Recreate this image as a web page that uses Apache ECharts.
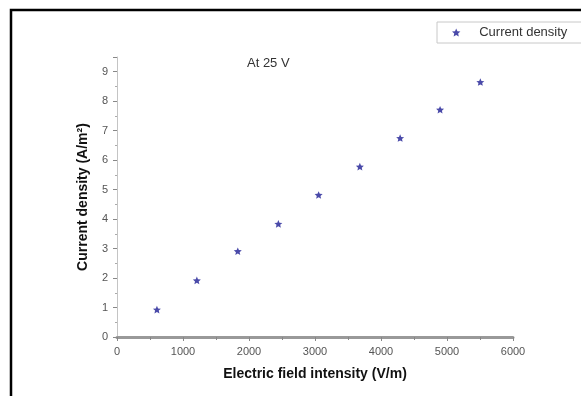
<!DOCTYPE html>
<html>
<head>
<meta charset="utf-8">
<script src="https://cdn.jsdelivr.net/npm/echarts@6/dist/echarts.min.js"></script>
<style>
html,body{margin:0;padding:0;background:#fff;}
#chart{width:581px;height:396px;}
</style>
</head>
<body>
<div id="chart"></div>
<script>
var fieldIntensity = [605, 1210, 1830, 2445, 3055, 3680, 4290, 4895, 5505];
var currentDensity = [0.93, 1.92, 2.91, 3.84, 4.82, 5.78, 6.75, 7.71, 8.65];
var seriesName = 'Current density';
var chartTitle = 'At 25 V';
var xAxisName = 'Electric field intensity (V/m)';
var yAxisName = 'Current density (A/m\u00B2)';

var starPath = 'path://M0 -100 L27 -37 L95 -31 L44 14 L59 81 L0 46 L-59 81 L-44 14 L-95 -31 L-27 -37Z';
var font = 'Liberation Sans, Arial, sans-serif';

var points = fieldIntensity.map(function (x, i) { return [x, currentDensity[i]]; });

var chart = echarts.init(document.getElementById('chart'), null, {renderer: 'canvas'});
chart.setOption({
  backgroundColor: '#fff',
  animation: false,
  textStyle: {fontFamily: font},
  title: {
    text: chartTitle,
    left: 247,
    top: 57,
    padding: 0,
    textStyle: {fontSize: 13, fontWeight: 'normal', color: '#333', fontFamily: font}
  },
  legend: {
    data: [seriesName],
    left: 437,
    top: 22,
    padding: [4, 20, 4, 15],
    itemWidth: 12,
    itemHeight: 8,
    itemGap: 0,
    borderColor: '#c8c8c8',
    borderWidth: 1,
    textStyle: {fontSize: 13, color: '#333', fontFamily: font, padding: [0, 0, 0, 12]}
  },
  grid: {left: 117, right: 68, top: 57, bottom: 59, containLabel: false},
  xAxis: {
    type: 'value',
    min: 0, max: 6000, interval: 1000,
    name: xAxisName,
    nameLocation: 'middle',
    nameGap: 30,
    nameTextStyle: {fontSize: 14, fontWeight: 'bold', color: '#111', fontFamily: font},
    axisLine: {show: true, onZero: false, lineStyle: {color: '#999', width: 3}},
    axisTick: {show: true, inside: false, length: 4, lineStyle: {color: '#888', width: 1}},
    minorTick: {show: true, splitNumber: 2, length: 3, lineStyle: {color: '#888'}},
    axisLabel: {fontSize: 11, color: '#555', margin: 9, fontFamily: font,
      formatter: function (v) { return String(v); }},
    splitLine: {show: false}
  },
  yAxis: {
    type: 'value',
    min: 0, max: 9.5, interval: 1,
    name: yAxisName,
    nameLocation: 'middle',
    nameGap: 27,
    nameTextStyle: {fontSize: 14, fontWeight: 'bold', color: '#111', fontFamily: font},
    axisLine: {show: true, onZero: false, lineStyle: {color: '#c4c4c4', width: 1}},
    axisTick: {show: true, inside: false, length: 4, lineStyle: {color: '#888', width: 1}},
    minorTick: {show: true, splitNumber: 2, length: 2, lineStyle: {color: '#aaa'}},
    axisLabel: {
      fontSize: 11, color: '#555', margin: 9, fontFamily: font,
      formatter: function (v) { return Number.isInteger(v) ? String(v) : ''; }
    },
    splitLine: {show: false}
  },
  series: [{
    name: seriesName,
    type: 'scatter',
    data: points,
    symbol: starPath,
    symbolSize: 8,
    symbolKeepAspect: true,
    itemStyle: {color: '#3636a0', opacity: 0.9}
  }],
  graphic: [{
    type: 'rect',
    shape: {x: 11, y: 10, width: 620, height: 420},
    style: {fill: 'none', stroke: '#000', lineWidth: 2.5},
    silent: true,
    z: 100
  }]
});
</script>
</body>
</html>
